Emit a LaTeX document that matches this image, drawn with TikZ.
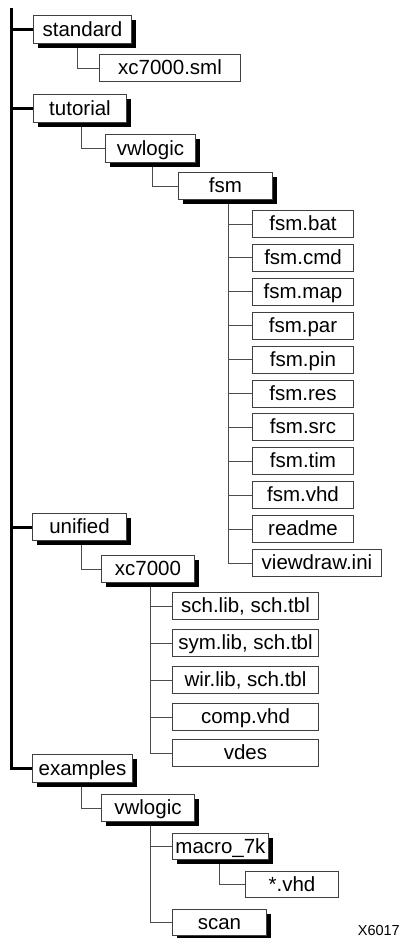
\documentclass[tikz,border=0pt]{standalone}
\usepackage{fontspec}
\setmainfont{Liberation Sans}
\usetikzlibrary{shadows,backgrounds}
\begin{document}
\begin{tikzpicture}[x=1pt,y=-1pt,
  box/.style={draw=black!75, line width=1pt, fill=white, anchor=north west,
    inner sep=0pt, text height=14pt, text depth=1pt,
    font=\fontsize{20.5}{24}\selectfont},
  sbox/.style={box, drop shadow={shadow xshift=4pt, shadow yshift=-4pt, opacity=1, fill=black}},
  conn/.style={draw=black!70, line width=1pt},
  trunk/.style={draw=black, line width=3pt, line join=miter}]
\useasboundingbox (0,0) rectangle (403,938);
% top level
\node[sbox, minimum width=98pt, minimum height=28pt] (standard) at (33,15) {standard};
\node[box, minimum width=141pt, minimum height=27pt] (xcsml) at (99,54) {xc7000.sml};
\node[sbox, minimum width=93pt, minimum height=28pt] (tutorial) at (33,94) {tutorial};
\node[sbox, minimum width=90pt, minimum height=28pt] (vwA) at (105,134) {vwlogic};
\node[sbox, minimum width=94pt, minimum height=27pt] (fsm) at (178,172) {fsm};
% fsm files
\node[box, minimum width=101pt, minimum height=27pt] (f1) at (252,210) {fsm.bat};
\node[box, minimum width=101pt, minimum height=27pt] (f2) at (252,243.9) {fsm.cmd};
\node[box, minimum width=101pt, minimum height=27pt] (f3) at (252,277.8) {fsm.map};
\node[box, minimum width=101pt, minimum height=27pt] (f4) at (252,311.7) {fsm.par};
\node[box, minimum width=101pt, minimum height=27pt] (f5) at (252,345.6) {fsm.pin};
\node[box, minimum width=101pt, minimum height=27pt] (f6) at (252,379.5) {fsm.res};
\node[box, minimum width=101pt, minimum height=27pt] (f7) at (252,413.4) {fsm.src};
\node[box, minimum width=101pt, minimum height=27pt] (f8) at (252,447.3) {fsm.tim};
\node[box, minimum width=101pt, minimum height=27pt] (f9) at (252,481.2) {fsm.vhd};
\node[box, minimum width=101pt, minimum height=27pt] (f10) at (252,515.1) {readme};
\node[box, minimum width=129pt, minimum height=27pt] (f11) at (252,549) {viewdraw.ini};
% unified
\node[sbox, minimum width=94pt, minimum height=27pt] (unified) at (32,513) {unified};
\node[sbox, minimum width=93pt, minimum height=27pt] (xcA) at (101,555) {xc7000};
\node[box, minimum width=146pt, minimum height=27pt] (l1) at (172,592) {sch.lib, sch.tbl};
\node[box, minimum width=146pt, minimum height=27pt] (l2) at (172,629) {sym.lib, sch.tbl};
\node[box, minimum width=146pt, minimum height=27pt] (l3) at (172,666) {wir.lib, sch.tbl};
\node[box, minimum width=146pt, minimum height=27pt] (l4) at (172,703) {comp.vhd};
\node[box, minimum width=146pt, minimum height=27pt] (l5) at (172,739) {vdes};
% examples
\node[sbox, minimum width=100pt, minimum height=28pt] (examples) at (32,754) {examples};
\node[sbox, minimum width=93pt, minimum height=27pt] (vwB) at (101,794) {vwlogic};
\node[sbox, minimum width=96pt, minimum height=26pt] (macro) at (172,833) {macro\_7k};
\node[box, minimum width=93pt, minimum height=26pt] (vhd) at (245,871) {*.vhd};
\node[sbox, minimum width=94pt, minimum height=26pt] (scan) at (172,909) {scan};
\node[anchor=base east, inner sep=0pt, font=\fontsize{14.5}{16}\selectfont] (lbl) at (400,935) {X6017};
% connectors
\begin{scope}[on background layer]
\coordinate (ttop) at (11.5,8);
\draw[trunk] (ttop) |- (examples.west);
\foreach \n in {standard,tutorial,unified}
  \draw[trunk] (\n.west -| ttop) -- (\n.west);
\draw[conn] ([xshift=44pt]standard.south west) |- (xcsml.west);
\draw[conn] ([xshift=48pt]tutorial.south west) |- (vwA.west);
\draw[conn] ([xshift=47pt]vwA.south west) |- (fsm.west);
\coordinate (fd) at ([xshift=50pt]fsm.south west);
\draw[conn] (fd) |- (f11.west);
\foreach \n in {f1,f2,f3,f4,f5,f6,f7,f8,f9,f10}
  \draw[conn] (\n.west -| fd) -- (\n.west);
\draw[conn] ([xshift=49pt]unified.south west) |- (xcA.west);
\coordinate (xd) at ([xshift=49pt]xcA.south west);
\draw[conn] (xd) |- (l5.west);
\foreach \n in {l1,l2,l3,l4}
  \draw[conn] (\n.west -| xd) -- (\n.west);
\draw[conn] ([xshift=49pt]examples.south west) |- (vwB.west);
\coordinate (vd) at ([xshift=49pt]vwB.south west);
\draw[conn] (vd) |- (scan.west);
\draw[conn] (macro.west -| vd) -- (macro.west);
\draw[conn] ([xshift=47pt]macro.south west) |- (vhd.west);
\end{scope}
\end{tikzpicture}
\end{document}
